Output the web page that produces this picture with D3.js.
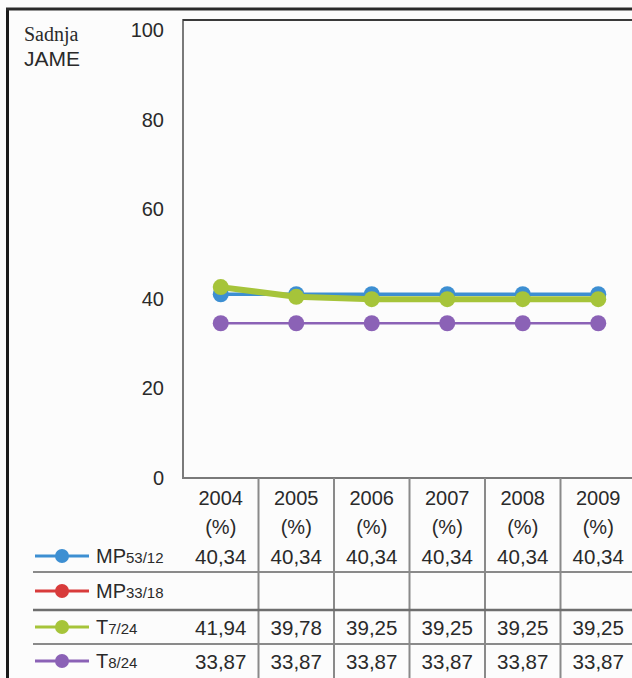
<!DOCTYPE html>
<html>
<head>
<meta charset="utf-8">
<script src="https://cdn.jsdelivr.net/npm/d3@7/dist/d3.min.js"></script>
<style>
  html, body { margin: 0; padding: 0; background: #fcfcfc; }
  svg { display: block; }
  text { font-family: "Liberation Sans", Arial, sans-serif; fill: #2a2a2a; }
</style>
</head>
<body>
<svg id="chart" width="632" height="678"></svg>
<script>
// ---- data ----
const years = ["2004", "2005", "2006", "2007", "2008", "2009"];
const yTicks = [0, 20, 40, 60, 80, 100];
const seriesNames = ["MP", "MP", "T", "T"];
const seriesSubs = ["53/12", "33/18", "7/24", "8/24"];
const seriesColors = ["#3d8fd2", "#d83b3b", "#a6c43a", "#8b62b6"];
const mp5312 = [40.34, 40.34, 40.34, 40.34, 40.34, 40.34];
const mp3318 = [null, null, null, null, null, null];
const t724 = [41.94, 39.78, 39.25, 39.25, 39.25, 39.25];
const t824 = [33.87, 33.87, 33.87, 33.87, 33.87, 33.87];
const seriesValues = [mp5312, mp3318, t724, t824];
const lineWidths = [3.5, 3, 6, 2.5];

const svg = d3.select("#chart");
const W = 632, H = 678;
const plotLeft = 183, plotTop = 20, plotBottom = 478, plotRight = 636;

const x = d3.scaleBand().domain(years).range([plotLeft, plotRight]).padding(0);
const y = d3.scaleLinear().domain([0, 100]).range([475, 27]);

// outer frame
svg.append("rect").attr("x", 0).attr("y", 0).attr("width", W).attr("height", H).attr("fill", "#fcfcfc");
svg.append("line").attr("x1", 7.5).attr("x2", 7.5).attr("y1", 8).attr("y2", H).attr("stroke", "#1a1a1a").attr("stroke-width", 3);
svg.append("line").attr("x1", 6).attr("x2", W).attr("y1", 9).attr("y2", 9).attr("stroke", "#2a2a2a").attr("stroke-width", 3);

// title
svg.append("text").attr("x", 24).attr("y", 41).style("font-family", "'Liberation Serif', 'Times New Roman', serif")
  .style("font-size", "20px").text("Sadnja");
svg.append("text").attr("x", 24).attr("y", 66).style("font-size", "21px").text("JAME");

// plot box
svg.append("path")
  .attr("d", `M${plotRight},${plotTop}H${plotLeft}V${plotBottom}H${plotRight}`)
  .attr("fill", "none").attr("stroke", "#7a7a7a").attr("stroke-width", 2);
svg.append("line").attr("x1", plotLeft).attr("x2", plotRight).attr("y1", plotTop).attr("y2", plotTop)
  .attr("stroke", "#3a3a3a").attr("stroke-width", 2);

// y axis labels
const yAxis = d3.axisLeft(y).tickValues(yTicks).tickSize(0).tickPadding(0).tickFormat(d3.format("d"));
const gy = svg.append("g").attr("transform", "translate(164,3)").call(yAxis);
gy.select(".domain").remove();
gy.selectAll("text").style("font-size", "20px").style("font-family", "'Liberation Sans', Arial, sans-serif").attr("fill", "#2a2a2a");

// lines
const line = d3.line().defined(d => d.v != null).x(d => x(d.year) + x.bandwidth() / 2).y(d => y(d.v));
[0, 1, 2, 3].forEach(i => {
  const pts = years.map((yr, j) => ({ year: yr, v: seriesValues[i][j] }));
  const g = svg.append("g");
  g.append("path").datum(pts).attr("d", line).attr("fill", "none")
    .attr("stroke", seriesColors[i]).attr("stroke-width", lineWidths[i]).attr("stroke-linejoin", "round");
  g.selectAll("circle").data(pts.filter(d => d.v != null)).join("circle")
    .attr("cx", d => x(d.year) + x.bandwidth() / 2).attr("cy", d => y(d.v)).attr("r", 8)
    .attr("fill", seriesColors[i]);
});

// data table
const headerY1 = 498, headerY2 = 527;
const rowLines = [572, 610, 644];
const rowCenters = [556, 591, 627, 661];

years.slice(1).forEach(yr => {
  svg.append("line").attr("x1", x(yr)).attr("x2", x(yr)).attr("y1", plotBottom).attr("y2", H)
    .attr("stroke", "#8a8a8a").attr("stroke-width", 2);
});
rowLines.forEach((ry, k) => {
  svg.append("line").attr("x1", 33).attr("x2", W).attr("y1", ry).attr("y2", ry)
    .attr("stroke", k === 1 ? "#6e6e6e" : "#8a8a8a").attr("stroke-width", k === 1 ? 2.5 : 2);
});

years.forEach(yr => {
  const cx = x(yr) + x.bandwidth() / 2;
  svg.append("text").attr("x", cx).attr("y", headerY1).attr("text-anchor", "middle")
    .attr("dominant-baseline", "central").style("font-size", "20px").text(yr);
  svg.append("text").attr("x", cx).attr("y", headerY2).attr("text-anchor", "middle")
    .attr("dominant-baseline", "central").style("font-size", "20px").text("(%)");
});

const fmt = v => v.toFixed(2).replace(".", ",");
seriesValues.forEach((vals, i) => {
  const cy = rowCenters[i];
  svg.append("line").attr("x1", 35).attr("x2", 89).attr("y1", cy).attr("y2", cy)
    .attr("stroke", seriesColors[i]).attr("stroke-width", 3);
  svg.append("circle").attr("cx", 62).attr("cy", cy).attr("r", 7).attr("fill", seriesColors[i]);
  const t = svg.append("text").attr("x", 96).attr("y", cy + 7);
  t.append("tspan").style("font-size", "20px").text(seriesNames[i]);
  t.append("tspan").style("font-size", "15px").text(seriesSubs[i]);
  vals.forEach((v, j) => {
    if (v == null) return;
    svg.append("text").attr("x", x(years[j]) + x.bandwidth() / 2).attr("y", cy)
      .attr("text-anchor", "middle").attr("dominant-baseline", "central")
      .style("font-size", "20.5px").text(fmt(v));
  });
});
</script>
</body>
</html>
